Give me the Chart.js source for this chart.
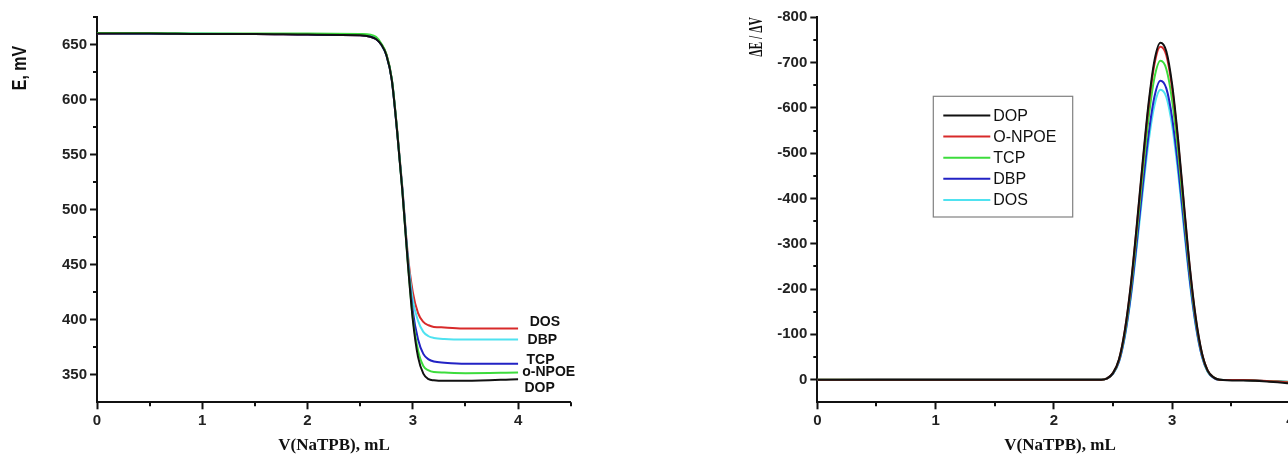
<!DOCTYPE html>
<html>
<head>
<meta charset="utf-8">
<script src="https://cdn.jsdelivr.net/npm/chart.js@4.4.0/dist/chart.umd.min.js"></script>
<style>
  html, body { margin: 0; padding: 0; background: #fff; overflow: hidden; width: 1288px; height: 454px; }
  .box { position: absolute; top: 0; }
  #left { left: 0; }
  #right { left: 700px; }
</style>
</head>
<body>
<div class="box" id="left"><canvas id="titration" width="600" height="454"></canvas></div>
<div class="box" id="right"><canvas id="deriv" width="660" height="454"></canvas></div>
<script>
// --- titration curves (E, mV vs V NaTPB) ---
const xE = [0, 0.5, 1, 1.5, 2, 2.5, 2.6, 2.65, 2.7, 2.75, 2.8, 2.85, 2.9, 2.95, 3.0, 3.05, 3.1, 3.15, 3.2, 3.3, 3.5, 4.0];
const eDOP  = [660, 660, 659.5, 659.5, 659, 658.5, 657, 655, 650, 640, 618, 572, 518, 455, 400, 366, 351, 346, 345, 344.5, 344.5, 346];
const eNPOE = [660.5, 660.5, 660, 660, 660, 659.5, 659, 657, 651, 641, 619, 573, 518, 455, 402, 372, 358, 354, 352.5, 352, 351.5, 352];
const eTCP  = [660, 660, 659.5, 659.5, 659, 658.5, 657, 655, 650, 640, 618, 572, 519, 457, 408, 382, 369, 364, 362, 361, 360, 360];
const eDBP  = [660.5, 660, 660, 659.5, 659.5, 659, 657.5, 655.5, 650, 640, 619, 573, 520, 460, 418, 399, 389, 385, 383.5, 382.5, 382, 382];
const eDOS  = [660, 660, 659.5, 659.5, 659, 658.5, 657, 655, 650, 641, 619, 574, 521, 462, 425, 406, 398, 395, 393.5, 393, 392, 392];

// end labels of the left plot (data coords)
const endNames = ['DOS', 'DBP', 'TCP', 'o-NPOE', 'DOP'];
const endX = [4.11, 4.09, 4.08, 4.04, 4.06];
const endY = [398, 381.5, 363.5, 352, 337.5];

// --- first derivative curves ---
const xD = [0, 0.5, 1, 1.5, 2, 2.3, 2.4, 2.45, 2.5, 2.55, 2.6, 2.65, 2.7, 2.75, 2.8, 2.85, 2.9, 2.95, 3.0, 3.05, 3.1, 3.15, 3.2, 3.25, 3.3, 3.35, 3.4, 3.6, 3.8, 4.0];
const dDOP  = [0, 0, 0, 0, 0, 0, 0, -3, -15, -45, -110, -210, -340, -480, -610, -705, -744, -725, -650, -530, -385, -245, -135, -60, -20, -5, 0, 2, 4, 8];
const dNPOE = [0, 0, 0, 0, 0, 0, 0, -3, -15, -44, -109, -207, -336, -474, -603, -697, -735, -716, -642, -524, -380, -242, -133, -59, -20, -5, 0, 1, 3, 6];
const dTCP  = [0, 0, 0, 0, 0, 0, 0, -3, -14, -43, -104, -199, -322, -454, -577, -667, -704, -686, -615, -501, -364, -232, -128, -57, -19, -5, 0, 1, 3, 5];
const dDBP  = [1, 0, 0, 0, 0, 0, 0, -3, -13, -40, -98, -186, -302, -426, -541, -625, -660, -643, -577, -470, -342, -217, -120, -53, -18, -4, 0, 1, 3, 5];
const dDOS  = [0, 0, 0, 0, 0, 0, 0, -3, -13, -39, -95, -181, -292, -413, -525, -606, -640, -624, -559, -456, -331, -211, -116, -52, -17, -4, 0, 1, 3, 5];
const legendNames = ['DOP', 'O-NPOE', 'TCP', 'DBP', 'DOS'];

// tick values
const xTicks = [0, 1, 2, 3, 4];
const xMinor = [0.5, 1.5, 2.5, 3.5, 4.5];
const eTicks = [350, 400, 450, 500, 550, 600, 650];
const eMinor = [375, 425, 475, 525, 575, 625, 675];
const dTicks = [-800, -700, -600, -500, -400, -300, -200, -100, 0];
const dMinor = [-750, -650, -550, -450, -350, -250, -150, -50];

const BLACK = '#111111', RED = '#d82a2a', GREEN = '#3cdc3c', BLUE = '#2222c4', CYAN = '#4fe2f0';

Chart.defaults.font.family = '"Liberation Sans", Arial, sans-serif';
Chart.defaults.color = '#222';

function pts(xs, ys) {
    return xs.map((x, i) => ({ x: x, y: ys[i] }));
}

function series(label, xs, ys, color) {
    return {
        label: label,
        data: pts(xs, ys),
        borderColor: color,
        borderWidth: 2,
        pointRadius: 0,
        fill: false,
        cubicInterpolationMode: 'monotone'
    };
}

function makeAxis(min, max, ticks, size, isX, reverse) {
    return {
        type: 'linear',
        min: min,
        max: max,
        reverse: !!reverse,
        afterBuildTicks: s => { s.ticks = ticks.map(v => ({ value: v })); },
        afterFit: s => { if (isX) s.height = size; else s.width = size; },
        grid: { drawOnChartArea: false, drawTicks: true, tickLength: 7, tickWidth: 2, tickColor: '#111' },
        border: { display: true, color: '#111', width: 2 },
        ticks: { color: '#222', font: { weight: 'bold', size: 15 }, padding: 3, maxRotation: 0, autoSkip: false }
    };
}

function drawText(ctx, t) {
    ctx.save();
    ctx.translate(t.x, t.y);
    if (t.rotate) ctx.rotate(-Math.PI / 2);
    ctx.scale(t.sx || 1, t.sy || 1);
    ctx.font = t.font;
    ctx.fillStyle = t.color || '#111';
    ctx.textAlign = t.align || 'center';
    ctx.textBaseline = 'middle';
    ctx.fillText(t.text, 0, 0);
    ctx.restore();
}

// minor ticks, titles, curve labels and the boxed legend
const extras = {
    id: 'extras',
    afterDraw(chart, args, opts) {
        const ctx = chart.ctx;
        const sx = chart.scales.x, sy = chart.scales.y;
        const area = chart.chartArea;
        ctx.save();
        ctx.strokeStyle = '#111';
        ctx.lineWidth = 2;
        (opts.minorX || []).forEach(v => {
            const px = Math.round(sx.getPixelForValue(v));
            ctx.beginPath(); ctx.moveTo(px, area.bottom); ctx.lineTo(px, area.bottom + 4); ctx.stroke();
        });
        (opts.minorY || []).forEach(v => {
            const py = Math.round(sy.getPixelForValue(v));
            ctx.beginPath(); ctx.moveTo(area.left, py); ctx.lineTo(area.left - 4, py); ctx.stroke();
        });
        ctx.restore();

        (opts.texts || []).forEach(t => drawText(ctx, t));

        (opts.labels || []).forEach(l => drawText(ctx, {
            text: l.text, align: 'left', font: 'bold 14px "Liberation Sans", Arial, sans-serif',
            x: sx.getPixelForValue(l.x), y: sy.getPixelForValue(l.y)
        }));

        const lg = opts.legend;
        if (lg) {
            ctx.save();
            ctx.strokeStyle = '#808080';
            ctx.lineWidth = 1.2;
            ctx.strokeRect(lg.x, lg.y, lg.w, lg.h);
            ctx.font = '16px "Liberation Sans", Arial, sans-serif';
            ctx.textBaseline = 'middle';
            chart.data.datasets.forEach((ds, i) => {
                const yy = lg.row0 + i * lg.step;
                ctx.strokeStyle = ds.borderColor;
                ctx.lineWidth = 2;
                ctx.beginPath(); ctx.moveTo(lg.x + 10, yy); ctx.lineTo(lg.x + 57, yy); ctx.stroke();
                ctx.fillStyle = '#111';
                ctx.fillText(ds.label, lg.x + 60, yy + 1);
            });
            ctx.restore();
        }
    }
};

const serifTitle = 'bold 17px "Liberation Serif", "Times New Roman", serif';

new Chart(document.getElementById('titration'), {
    type: 'line',
    data: {
        datasets: [
            series('DOP', xE, eDOP, BLACK),
            series('o-NPOE', xE, eNPOE, GREEN),
            series('TCP', xE, eTCP, BLUE),
            series('DBP', xE, eDBP, CYAN),
            series('DOS', xE, eDOS, RED)
        ]
    },
    options: {
        responsive: false,
        animation: false,
        devicePixelRatio: 1,
        layout: { padding: { left: 0, top: 17, right: 29.3, bottom: 0 } },
        scales: {
            x: makeAxis(0, 4.5, xTicks, 51.7, true),
            y: makeAxis(325, 675, eTicks, 97, false)
        },
        plugins: {
            legend: { display: false },
            tooltip: { enabled: false },
            extras: {
                minorX: xMinor,
                minorY: eMinor,
                texts: [
                    { text: 'E, mV', x: 20, y: 68, rotate: true, sy: 1.25, font: 'bold 16px "Liberation Sans", Arial, sans-serif' },
                    { text: 'V(NaTPB), mL', x: 334, y: 446, font: serifTitle }
                ],
                labels: endNames.map((n, i) => ({ text: n, x: endX[i], y: endY[i] }))
            }
        }
    },
    plugins: [extras]
});

new Chart(document.getElementById('deriv'), {
    type: 'line',
    data: {
        datasets: [
            series(legendNames[0], xD, dDOP, BLACK),
            series(legendNames[1], xD, dNPOE, RED),
            series(legendNames[2], xD, dTCP, GREEN),
            series(legendNames[3], xD, dDBP, BLUE),
            series(legendNames[4], xD, dDOS, CYAN)
        ]
    },
    options: {
        responsive: false,
        animation: false,
        devicePixelRatio: 1,
        layout: { padding: { left: 0, top: 17.3, right: 10.3, bottom: 0 } },
        scales: {
            x: makeAxis(0, 4.5, xTicks, 51.7, true),
            y: makeAxis(-800, 50, dTicks, 117.3, false, true)
        },
        plugins: {
            legend: { display: false },
            tooltip: { enabled: false },
            extras: {
                minorX: xMinor,
                minorY: dMinor,
                texts: [
                    { text: 'ΔE / ΔV', x: 57, y: 37, rotate: true, sx: 0.72, sy: 1.15, font: 'bold 16px "Liberation Serif", "Times New Roman", serif' },
                    { text: 'V(NaTPB), mL', x: 360, y: 446, font: serifTitle }
                ],
                legend: { x: 233.3, y: 96.3, w: 139.4, h: 120.7, row0: 115.5, step: 21.1 }
            }
        }
    },
    plugins: [extras]
});
</script>
</body>
</html>
